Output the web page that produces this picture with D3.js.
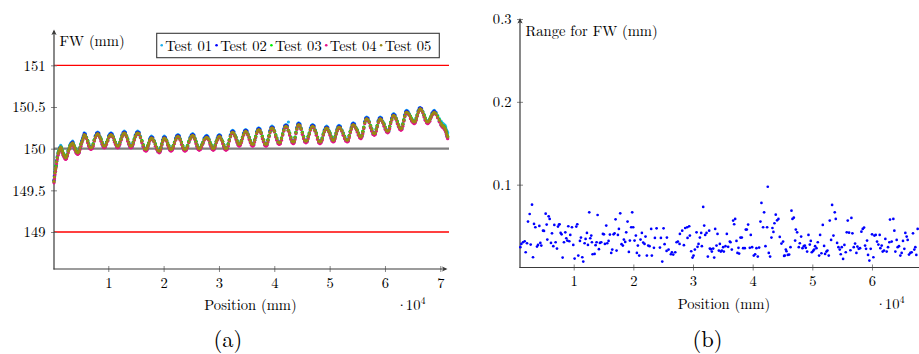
<!DOCTYPE html>
<html>
<head>
<meta charset="utf-8">
<script src="https://cdn.jsdelivr.net/npm/d3@7"></script>
<style>
  html, body { margin: 0; padding: 0; background: #fff; }
</style>
</head>
<body>
<svg id="chart" width="919" height="354"></svg>
<script>
// ---- (a) FW per test, position in mm ----
const positions = [
  190,280,370,460,550,660,780,930,1090,1240,1400,1540,1690,1840,1990,2150,2300,2450,2590,2770,2950,3100,3260,3420,3570,3710,3850,4000,4160,4310,4470,4610,4760,4910,5070,5220,5370,5520,
  5660,5862,6063,6265,6467,6668, 6870,7072,7273,7475,7677,7878, 8080,8280,8480,8680,8880,9080, 9280,9482,9683,9885,10087,10288,
  10490,10692,10893,11095,11297,11498, 11700,11898,12097,12295,12493,12692, 12890,13092,13293,13495,13697,13898, 14100,14302,14503,14705,14907,15108,
  15310,15560,15810,16060,16310,16560, 16810,16975,17140,17305,17470,17635, 17800,18035,18270,18505,18740,18975, 19210,19362,19513,19665,19817,19968,
  20120,20322,20523,20725,20927,21128, 21330,21540,21750,21960,22170,22380, 22590,22802,23013,23225,23437,23648, 23860,24092,24323,24555,24787,25018,
  25250,25448,25647,25845,26043,26242, 26440,26663,26887,27110,27333,27557, 27780,27978,28177,28375,28573,28772, 28970,29152,29333,29515,29697,29878,
  30060,30262,30463,30665,30867,31068, 31270,31472,31673,31875,32077,32278, 32480,32678,32877,33075,33273,33472, 33670,33863,34057,34250,34443,34637,
  34830,35040,35250,35460,35670,35880, 36090,36272,36453,36635,36817,36998, 37180,37400,37620,37840,38060,38280, 38500,38680,38860,39040,39220,39400,
  39580,39800,40020,40240,40460,40680, 40900,41102,41303,41505,41707,41908, 42110,42330,42550,42770,42990,43210, 43430,43592,43753,43915,44077,44238,
  44400,44620,44840,45060,45280,45500, 45720,45922,46123,46325,46527,46728, 46930,47150,47370,47590,47810,48030, 48250,48452,48653,48855,49057,49258,
  49460,49660,49860,50060,50260,50460, 50660,50832,51003,51175,51347,51518, 51690,51940,52190,52440,52690,52940, 53190,53370,53550,53730,53910,54090,
  54270,54502,54733,54965,55197,55428, 55660,55832,56003,56175,56347,56518, 56690,56920,57150,57380,57610,57840, 58070,58250,58430,58610,58790,58970,
  59150,59373,59597,59820,60043,60267, 60490,60670,60850,61030,61210,61390, 61570,61790,62010,62230,62450,62670, 62890,63062,63233,63405,63577,63748,
  63920,64148,64377,64605,64833,65062, 65290,65472,65653,65835,66017,66198, 66380,66603,66827,67050,67273,67497, 67720,67918,68117,68315,68513,68712,
  68910,69200,69500,69820,70130,70320,70500,70680,70850,70980,71100,71220,71330
];

const test01 = [
  149.63,149.68,149.73,149.77,149.80,149.86,149.91,149.96,149.99,150.02,150.04,150.02,149.98,149.95,149.93,149.91,149.90,149.91,149.94,149.98,150.01,150.05,150.07,150.08,150.09,150.07,150.04,150.01,149.98,149.97,149.96,149.97,149.98,150.02,150.06,150.10,150.13,150.16,
  150.19,150.18,150.14,150.10,150.06,150.03, 150.02,150.03,150.06,150.11,150.16,150.19, 150.20,150.19,150.15,150.12,150.08,150.05, 150.04,150.05,150.08,150.11,150.16,150.18,
  150.19,150.18,150.15,150.11,150.08,150.05, 150.04,150.05,150.08,150.12,150.17,150.20, 150.21,150.20,150.16,150.12,150.08,150.05, 150.04,150.05,150.08,150.12,150.17,150.20,
  150.21,150.20,150.15,150.10,150.05,150.01, 150.00,150.01,150.04,150.07,150.12,150.14, 150.15,150.14,150.10,150.06,150.02,149.99, 149.98,149.99,150.02,150.06,150.11,150.14,
  150.15,150.14,150.11,150.07,150.04,150.01, 150.00,150.01,150.04,150.08,150.13,150.16, 150.17,150.16,150.12,150.08,150.04,150.01, 150.00,150.01,150.04,150.09,150.14,150.17,
  150.18,150.17,150.13,150.09,150.05,150.02, 150.01,150.02,150.05,150.08,150.13,150.15, 150.16,150.15,150.12,150.08,150.05,150.02, 150.01,150.02,150.05,150.09,150.13,150.16,
  150.17,150.16,150.12,150.09,150.05,150.02, 150.01,150.02,150.06,150.11,150.17,150.21, 150.22,150.21,150.17,150.14,150.10,150.07, 150.06,150.07,150.10,150.14,150.19,150.22,
  150.23,150.22,150.18,150.14,150.10,150.07, 150.06,150.07,150.11,150.15,150.21,150.24, 150.25,150.24,150.20,150.15,150.11,150.07, 150.06,150.07,150.11,150.16,150.22,150.26,
  150.27,150.26,150.22,150.17,150.13,150.09, 150.08,150.09,150.13,150.18,150.24,150.28, 150.29,150.28,150.32,150.19,150.14,150.10, 150.09,150.10,150.14,150.20,150.26,150.30,
  150.31,150.30,150.25,150.20,150.15,150.11, 150.10,150.11,150.15,150.19,150.25,150.28, 150.29,150.28,150.23,150.19,150.14,150.10, 150.09,150.10,150.13,150.18,150.23,150.26,
  150.27,150.26,150.22,150.19,150.15,150.12, 150.11,150.12,150.15,150.19,150.24,150.27, 150.28,150.27,150.23,150.19,150.15,150.12, 150.11,150.12,150.16,150.21,150.26,150.30,
  150.31,150.30,150.26,150.23,150.19,150.16, 150.15,150.17,150.21,150.26,150.33,150.37, 150.38,150.37,150.33,150.28,150.24,150.20, 150.19,150.20,150.24,150.28,150.34,150.37,
  150.38,150.37,150.33,150.30,150.26,150.23, 150.22,150.23,150.27,150.32,150.37,150.41, 150.42,150.41,150.37,150.33,150.29,150.26, 150.25,150.26,150.30,150.35,150.41,150.45,
  150.46,150.45,150.42,150.39,150.36,150.34, 150.33,150.34,150.37,150.41,150.46,150.49, 150.49,150.48,150.45,150.41,150.37,150.34, 150.33,150.34,150.36,150.39,150.43,150.45,
  150.46,150.44,150.40,150.36,150.33,150.31,150.30,150.29,150.28,150.26,150.23,150.21,150.19
];
const test02 = [
  149.62,149.67,149.72,149.75,149.79,149.85,149.89,149.94,149.97,150.01,150.02,150.00,149.96,149.93,149.91,149.89,149.88,149.89,149.92,149.97,150.00,150.04,150.06,150.07,150.08,150.05,150.02,149.99,149.96,149.95,149.94,149.95,149.96,150.01,150.05,150.09,150.12,150.15,
  150.18,150.17,150.13,150.09,150.04,150.01, 150.00,150.01,150.05,150.10,150.15,150.18, 150.19,150.18,150.14,150.11,150.06,150.03, 150.02,150.03,150.07,150.10,150.15,150.17,
  150.18,150.17,150.14,150.10,150.06,150.03, 150.02,150.03,150.07,150.11,150.16,150.19, 150.20,150.19,150.15,150.11,150.06,150.03, 150.02,150.03,150.07,150.11,150.16,150.19,
  150.20,150.19,150.14,150.09,150.03,149.99, 149.98,149.99,150.03,150.06,150.11,150.13, 150.14,150.13,150.09,150.05,150.00,149.97, 149.96,149.97,150.01,150.05,150.10,150.13,
  150.14,150.13,150.10,150.06,150.02,149.99, 149.98,149.99,150.03,150.07,150.12,150.15, 150.16,150.15,150.11,150.07,150.02,149.99, 149.98,149.99,150.03,150.08,150.13,150.16,
  150.17,150.16,150.12,150.08,150.03,150.00, 149.99,150.00,150.04,150.07,150.12,150.14, 150.15,150.14,150.11,150.07,150.03,150.00, 149.99,150.00,150.04,150.08,150.12,150.15,
  150.16,150.15,150.11,150.08,150.03,150.00, 149.99,150.00,150.05,150.10,150.16,150.20, 150.21,150.20,150.16,150.13,150.08,150.05, 150.04,150.05,150.09,150.13,150.18,150.21,
  150.22,150.21,150.17,150.13,150.08,150.05, 150.04,150.05,150.10,150.14,150.20,150.23, 150.24,150.23,150.19,150.14,150.09,150.05, 150.04,150.05,150.10,150.15,150.21,150.25,
  150.26,150.25,150.21,150.16,150.11,150.07, 150.06,150.07,150.12,150.17,150.23,150.27, 150.28,150.27,150.22,150.18,150.12,150.08, 150.07,150.08,150.13,150.19,150.25,150.29,
  150.30,150.29,150.24,150.19,150.13,150.09, 150.08,150.09,150.14,150.18,150.24,150.27, 150.28,150.27,150.22,150.18,150.12,150.08, 150.07,150.08,150.12,150.17,150.22,150.25,
  150.26,150.25,150.21,150.18,150.13,150.10, 150.09,150.10,150.14,150.18,150.23,150.26, 150.27,150.26,150.22,150.18,150.13,150.10, 150.09,150.10,150.15,150.20,150.25,150.29,
  150.30,150.29,150.25,150.22,150.17,150.14, 150.13,150.15,150.20,150.25,150.32,150.36, 150.37,150.36,150.32,150.27,150.22,150.18, 150.17,150.18,150.23,150.27,150.33,150.36,
  150.37,150.36,150.32,150.29,150.24,150.21, 150.20,150.21,150.26,150.31,150.36,150.40, 150.41,150.40,150.36,150.32,150.27,150.24, 150.23,150.24,150.29,150.34,150.40,150.44,
  150.45,150.44,150.41,150.38,150.34,150.32, 150.31,150.32,150.36,150.40,150.45,150.48, 150.49,150.48,150.44,150.40,150.35,150.32, 150.31,150.32,150.35,150.38,150.42,150.44,
  150.45,150.43,150.38,150.33,150.29,150.27,150.26,150.25,150.23,150.21,150.18,150.15,150.13
];
const test03 = [
  149.60,149.66,149.72,149.76,149.80,149.85,149.90,149.95,149.98,150.00,150.02,150.01,149.98,149.95,149.93,149.91,149.90,149.90,149.93,149.98,150.01,150.04,150.05,150.06,150.06,150.05,150.03,150.01,149.98,149.97,149.95,149.96,149.98,150.02,150.06,150.08,150.11,150.13,
  150.16,150.15,150.13,150.10,150.06,150.02, 150.00,150.02,150.06,150.11,150.14,150.16, 150.17,150.16,150.14,150.12,150.08,150.04, 150.02,150.04,150.08,150.11,150.14,150.15,
  150.16,150.15,150.14,150.11,150.08,150.04, 150.02,150.04,150.08,150.12,150.15,150.17, 150.18,150.17,150.15,150.12,150.08,150.04, 150.02,150.04,150.08,150.12,150.15,150.17,
  150.18,150.17,150.14,150.10,150.05,150.00, 149.98,150.00,150.04,150.07,150.10,150.11, 150.12,150.11,150.09,150.06,150.02,149.98, 149.96,149.98,150.02,150.06,150.09,150.11,
  150.12,150.11,150.10,150.07,150.04,150.00, 149.98,150.00,150.04,150.08,150.11,150.13, 150.14,150.13,150.11,150.08,150.04,150.00, 149.98,150.00,150.04,150.09,150.12,150.14,
  150.15,150.14,150.12,150.09,150.05,150.01, 149.99,150.01,150.05,150.08,150.11,150.12, 150.13,150.12,150.11,150.08,150.05,150.01, 149.99,150.01,150.05,150.09,150.11,150.13,
  150.14,150.13,150.11,150.09,150.05,150.01, 149.99,150.01,150.06,150.11,150.15,150.18, 150.19,150.18,150.16,150.14,150.10,150.06, 150.04,150.06,150.10,150.14,150.17,150.19,
  150.20,150.19,150.17,150.14,150.10,150.06, 150.04,150.06,150.11,150.15,150.19,150.21, 150.22,150.21,150.19,150.15,150.11,150.06, 150.04,150.06,150.11,150.16,150.20,150.23,
  150.24,150.23,150.21,150.17,150.13,150.08, 150.06,150.08,150.13,150.18,150.22,150.25, 150.26,150.25,150.22,150.19,150.14,150.09, 150.07,150.09,150.14,150.20,150.24,150.27,
  150.28,150.27,150.24,150.20,150.15,150.10, 150.08,150.10,150.15,150.19,150.23,150.25, 150.26,150.25,150.22,150.19,150.14,150.09, 150.07,150.09,150.13,150.18,150.21,150.23,
  150.24,150.23,150.21,150.19,150.15,150.11, 150.09,150.11,150.15,150.19,150.22,150.24, 150.25,150.24,150.22,150.19,150.15,150.11, 150.09,150.11,150.16,150.21,150.24,150.27,
  150.28,150.27,150.25,150.23,150.19,150.15, 150.13,150.16,150.21,150.26,150.31,150.34, 150.35,150.34,150.32,150.28,150.24,150.19, 150.17,150.19,150.24,150.28,150.32,150.34,
  150.35,150.34,150.32,150.30,150.26,150.22, 150.20,150.22,150.27,150.32,150.35,150.38, 150.39,150.38,150.36,150.33,150.29,150.25, 150.23,150.25,150.30,150.35,150.39,150.42,
  150.43,150.42,150.41,150.39,150.36,150.33, 150.31,150.33,150.37,150.41,150.44,150.46, 150.47,150.46,150.44,150.41,150.37,150.33, 150.31,150.33,150.36,150.39,150.41,150.42,
  150.43,150.42,150.39,150.35,150.31,150.28,150.27,150.27,150.25,150.22,150.20,150.17,150.15
];
const test04 = [
  149.59,149.64,149.69,149.73,149.77,149.82,149.87,149.92,149.95,149.99,150.01,149.99,149.95,149.92,149.90,149.88,149.87,149.88,149.91,149.95,149.99,150.02,150.04,150.05,150.06,150.03,150.01,149.98,149.95,149.94,149.93,149.94,149.95,149.99,150.03,150.07,150.10,150.13,
  150.16,150.15,150.12,150.07,150.03,150.00, 149.99,150.00,150.03,150.09,150.13,150.16, 150.17,150.16,150.13,150.09,150.05,150.02, 150.01,150.02,150.05,150.09,150.13,150.15,
  150.16,150.15,150.13,150.08,150.05,150.02, 150.01,150.02,150.05,150.10,150.14,150.17, 150.18,150.17,150.14,150.09,150.05,150.02, 150.01,150.02,150.05,150.10,150.14,150.17,
  150.18,150.17,150.13,150.07,150.02,149.98, 149.97,149.98,150.01,150.05,150.09,150.11, 150.12,150.11,150.08,150.03,149.99,149.96, 149.95,149.96,149.99,150.04,150.08,150.11,
  150.12,150.11,150.09,150.04,150.01,149.98, 149.97,149.98,150.01,150.06,150.10,150.13, 150.14,150.13,150.10,150.05,150.01,149.98, 149.97,149.98,150.01,150.07,150.11,150.14,
  150.15,150.14,150.11,150.06,150.02,149.99, 149.98,149.99,150.02,150.06,150.10,150.12, 150.13,150.12,150.10,150.05,150.02,149.99, 149.98,149.99,150.02,150.07,150.10,150.13,
  150.14,150.13,150.10,150.06,150.02,149.99, 149.98,149.99,150.03,150.09,150.14,150.18, 150.19,150.18,150.15,150.11,150.07,150.04, 150.03,150.04,150.07,150.12,150.16,150.19,
  150.20,150.19,150.16,150.11,150.07,150.04, 150.03,150.04,150.08,150.13,150.18,150.21, 150.22,150.21,150.18,150.12,150.08,150.04, 150.03,150.04,150.08,150.14,150.19,150.23,
  150.24,150.23,150.20,150.14,150.10,150.06, 150.05,150.06,150.10,150.16,150.21,150.25, 150.26,150.25,150.21,150.16,150.11,150.07, 150.06,150.07,150.11,150.18,150.23,150.27,
  150.28,150.27,150.23,150.17,150.12,150.08, 150.07,150.08,150.12,150.17,150.22,150.25, 150.26,150.25,150.21,150.16,150.11,150.07, 150.06,150.07,150.10,150.16,150.20,150.23,
  150.24,150.23,150.20,150.16,150.12,150.09, 150.08,150.09,150.12,150.17,150.21,150.24, 150.25,150.24,150.21,150.16,150.12,150.09, 150.08,150.09,150.13,150.19,150.23,150.27,
  150.28,150.27,150.24,150.20,150.16,150.13, 150.12,150.14,150.18,150.24,150.30,150.34, 150.35,150.34,150.31,150.25,150.21,150.17, 150.16,150.17,150.21,150.26,150.31,150.34,
  150.35,150.34,150.31,150.27,150.23,150.20, 150.19,150.20,150.24,150.30,150.34,150.38, 150.39,150.38,150.35,150.30,150.26,150.23, 150.22,150.23,150.27,150.33,150.38,150.42,
  150.43,150.42,150.40,150.36,150.33,150.31, 150.30,150.31,150.34,150.39,150.43,150.46, 150.47,150.46,150.43,150.38,150.34,150.31, 150.30,150.31,150.33,150.37,150.40,150.42,
  150.43,150.41,150.37,150.32,150.28,150.26,150.25,150.24,150.22,150.20,150.17,150.14,150.12
];
const test05 = [
  149.61,149.66,149.71,149.75,149.78,149.84,149.89,149.94,149.97,150.00,150.02,150.00,149.97,149.94,149.92,149.90,149.89,149.90,149.93,149.97,150.00,150.03,150.05,150.06,150.07,150.05,150.03,150.00,149.97,149.96,149.95,149.96,149.97,150.01,150.05,150.08,150.11,150.14,
  150.17,150.16,150.13,150.09,150.05,150.02, 150.01,150.02,150.05,150.10,150.14,150.17, 150.18,150.17,150.14,150.11,150.07,150.04, 150.03,150.04,150.07,150.10,150.14,150.16,
  150.17,150.16,150.14,150.10,150.07,150.04, 150.03,150.04,150.07,150.11,150.15,150.18, 150.19,150.18,150.15,150.11,150.07,150.04, 150.03,150.04,150.07,150.11,150.15,150.18,
  150.19,150.18,150.14,150.09,150.04,150.00, 149.99,150.00,150.03,150.06,150.10,150.12, 150.13,150.12,150.09,150.05,150.01,149.98, 149.97,149.98,150.01,150.05,150.09,150.12,
  150.13,150.12,150.10,150.06,150.03,150.00, 149.99,150.00,150.03,150.07,150.11,150.14, 150.15,150.14,150.11,150.07,150.03,150.00, 149.99,150.00,150.03,150.08,150.12,150.15,
  150.16,150.15,150.12,150.08,150.04,150.01, 150.00,150.01,150.04,150.07,150.11,150.13, 150.14,150.13,150.11,150.07,150.04,150.01, 150.00,150.01,150.04,150.08,150.11,150.14,
  150.15,150.14,150.11,150.08,150.04,150.01, 150.00,150.01,150.05,150.10,150.15,150.19, 150.20,150.19,150.16,150.13,150.09,150.06, 150.05,150.06,150.09,150.13,150.17,150.20,
  150.21,150.20,150.17,150.13,150.09,150.06, 150.05,150.06,150.10,150.14,150.19,150.22, 150.23,150.22,150.19,150.14,150.10,150.06, 150.05,150.06,150.10,150.15,150.20,150.24,
  150.25,150.24,150.21,150.16,150.12,150.08, 150.07,150.08,150.12,150.17,150.22,150.26, 150.27,150.26,150.22,150.18,150.13,150.09, 150.08,150.09,150.13,150.19,150.24,150.28,
  150.29,150.28,150.24,150.19,150.14,150.10, 150.09,150.10,150.14,150.18,150.23,150.26, 150.27,150.26,150.22,150.18,150.13,150.09, 150.08,150.09,150.12,150.17,150.21,150.24,
  150.25,150.24,150.21,150.18,150.14,150.11, 150.10,150.11,150.14,150.18,150.22,150.25, 150.26,150.25,150.22,150.18,150.14,150.11, 150.10,150.11,150.15,150.20,150.24,150.28,
  150.29,150.28,150.25,150.22,150.18,150.15, 150.14,150.16,150.20,150.25,150.31,150.35, 150.36,150.35,150.32,150.27,150.23,150.19, 150.18,150.19,150.23,150.27,150.32,150.35,
  150.36,150.35,150.32,150.29,150.25,150.22, 150.21,150.22,150.26,150.31,150.35,150.39, 150.40,150.39,150.36,150.32,150.28,150.25, 150.24,150.25,150.29,150.34,150.39,150.43,
  150.44,150.43,150.41,150.38,150.35,150.33, 150.32,150.33,150.36,150.40,150.44,150.47, 150.48,150.47,150.44,150.40,150.36,150.33, 150.32,150.33,150.35,150.38,150.41,150.43,
  150.44,150.42,150.38,150.34,150.30,150.28,150.27,150.26,150.24,150.22,150.19,150.16,150.14
];

const testNames = ["Test 01", "Test 02", "Test 03", "Test 04", "Test 05"];
const testSeries = [test01, test02, test03, test04, test05];
const testColors = ["#1fb1ee", "#0000ff", "#00f000", "#e5118a", "#9a8914"];

const fwTicks = [149, 149.5, 150, 150.5, 151];
const limitLines = [149, 151];
const nominalLine = 150;
const posTicksA = [10000, 20000, 30000, 40000, 50000, 60000, 70000];
const posTicksB = [10000, 20000, 30000, 40000, 50000, 60000];

// ---- (b) range of FW over tests ----
const rangePos = [
  1061,1228,1507,1786,1953,2177,2344,2623,2790,3014,3181,3348,3572,3851,4018,4241,4409,4576,4855,5022,
  5301,5469,5580,5804,5971,6194,6362,6585,6752,6975,7199,7366,7533,7645,7812,7980,8147,8370,8594,8761,
  8928,9096,9263,9431,9710,9933,10156,10435,10602,10770,11049,11216,11439,11607,11830,11997,12221,12388,12611,12779,
  12946,13058,13169,13504,13671,13839,14006,14229,14397,14620,14899,15066,15234,15457,15624,15848,16071,16294,16461,16685,
  16852,17019,17187,17410,17577,17801,18024,18247,18414,18638,18805,19028,19251,19419,19642,19809,19977,20200,20423,20591,
  20758,20981,21204,21428,21651,21874,22041,22265,22488,22711,22990,23102,
  23450,23617,23896,24454,24621,24845,25068,25235,25570,25626,25905,26295,26463,26686,27021,27244,27467,27746,27802,28193,
  28472,28695,29030,29085,29364,29476,29699,29922,30090,30313,30592,30759,30927,31150,31373,31485,31708,31875,32043,32266,
  32489,32712,32824,32991,33159,33382,33549,33717,33940,34107,34331,34498,34665,34833,35056,35168,35447,35670,35893,36172,
  36284,36507,36730,36897,37065,37288,37455,37623,37734,37958,38181,38404,38683,38850,39018,39241,39520,39687,39911,40190,
  40413,40636,40859,41082,41306,41473,41752,41919,42143,42422,42533,42701,42924,43147,43314,43482,43649,43872,44095,44319,
  44542,44821,45100,45267,
  45392,45559,45671,45894,46117,46341,46508,46675,46899,47122,47233,47457,47736,47903,48126,48349,48573,48740,48907,49131,
  49354,49577,49744,49912,50135,50302,50470,50693,50916,51139,51307,51530,51753,51976,52144,52367,52534,52758,52925,53148,
  53316,53539,53762,53929,54153,54376,54599,54766,54934,55157,55380,55603,55771,55938,56161,56385,56552,56719,56943,57166,
  57389,57556,57780,58003,58226,58449,58672,58840,59007,59175,59342,59565,59788,60012,60235,60402,60625,60849,61072,61295,
  61407,61630,61797,62020,62244,62467,62690,62913,63025,63304,63583,63750,63918,64141,64308,64531,64755,64978,65201,65424,
  65592,65815,65982,66205,66429,66652,66875,67098,67266,67433,67656
];
const rangeVal = [
  0.0245,0.0285,0.0305,0.0317,0.0184,0.0293,0.0554,0.0646,0.0277,0.0759,0.0124,0.0526,0.0486,0.0253,0.0273,0.0502,0.0297,0.0265,0.0445,0.0441,
  0.0650,0.0518,0.0337,0.0618,0.0586,0.0297,0.0413,0.0257,0.0514,0.0305,0.0229,0.0494,0.0518,0.0522,0.0417,0.0401,0.0120,0.0305,0.0425,0.0353,
  0.0325,0.0498,0.0317,0.0393,0.0486,0.0273,0.0108,0.0494,0.0522,0.0144,0.0321,0.0361,0.0124,0.0072,0.0293,0.0345,0.0417,0.0273,0.0666,0.0353,
  0.0385,0.0305,0.0160,0.0164,0.0269,0.0305,0.0634,0.0221,0.0297,0.0305,0.0405,0.0401,0.0285,0.0506,0.0293,0.0321,0.0397,0.0176,0.0217,0.0401,
  0.0413,0.0582,0.0204,0.0393,0.0466,0.0654,0.0281,0.0265,0.0337,0.0309,0.0425,0.0554,0.0188,0.0325,0.0486,0.0666,0.0486,0.0325,0.0385,0.0176,
  0.0265,0.0144,0.0337,0.0417,0.0301,0.0285,0.0373,0.0144,0.0265,0.0257,0.0466,0.0144,
  0.0237,0.0357,0.0473,0.0241,0.0357,0.0072,0.0473,0.0281,0.0200,0.0361,0.0217,0.0160,0.0184,0.0156,0.0184,0.0305,0.0313,0.0285,0.0405,0.0445,
  0.0269,0.0477,0.0486,0.0357,0.0498,0.0385,0.0196,0.0120,0.0144,0.0217,0.0425,0.0249,0.0285,0.0361,0.0417,0.0257,0.0731,0.0506,0.0393,0.0417,
  0.0132,0.0445,0.0229,0.0221,0.0192,0.0229,0.0120,0.0466,0.0265,0.0405,0.0204,0.0285,0.0192,0.0204,0.0245,0.0192,0.0257,0.0405,0.0249,0.0313,
  0.0305,0.0217,0.0566,0.0522,0.0586,0.0321,0.0176,0.0237,0.0168,0.0361,0.0361,0.0233,0.0233,0.0458,0.0458,0.0518,0.0237,0.0393,0.0245,0.0144,
  0.0160,0.0233,0.0132,0.0241,0.0554,0.0779,0.0486,0.0666,0.0257,0.0486,0.0975,0.0176,0.0132,0.0361,0.0477,0.0429,0.0534,0.0638,0.0570,0.0586,
  0.0369,0.0289,0.0313,0.0140,
  0.0144,0.0217,0.0196,0.0152,0.0156,0.0245,0.0686,0.0586,0.0602,0.0325,0.0458,0.0425,0.0245,0.0293,0.0373,0.0233,0.0257,0.0265,0.0237,0.0192,
  0.0393,0.0277,0.0321,0.0184,0.0200,0.0217,0.0257,0.0233,0.0305,0.0144,0.0393,0.0172,0.0514,0.0261,0.0164,0.0192,0.0204,0.0144,0.0566,0.0333,
  0.0755,0.0385,0.0666,0.0586,0.0297,0.0245,0.0217,0.0160,0.0245,0.0104,0.0273,0.0184,0.0425,0.0566,0.0421,0.0208,0.0598,0.0413,0.0245,0.0289,
  0.0176,0.0253,0.0225,0.0233,0.0433,0.0466,0.0482,0.0265,0.0225,0.0325,0.0152,0.0084,0.0225,0.0401,0.0124,0.0385,0.0393,0.0313,0.0277,0.0393,
  0.0233,0.0265,0.0192,0.0204,0.0345,0.0192,0.0245,0.0305,0.0578,0.0313,0.0586,0.0445,0.0192,0.0333,0.0245,0.0257,0.0144,0.0176,0.0321,0.0225,
  0.0417,0.0373,0.0333,0.0156,0.0176,0.0184,0.0413,0.0217,0.0245,0.0152,0.0466
];
const rangeTicks = [0.1, 0.2, 0.3];

// ---- drawing ----
const svg = d3.select('#chart');
const AXIS = '#3a3a3a';
const FS = '14.6px';
const FONT = '"Latin Modern Roman", "Liberation Serif", serif';
const INK = '#000';

// put text with the serif font as inline style (stylesheet rules are not picked up)
function label(g, x, y, str, size = FS, anchor = 'start') {
  return g.append('text').attr('x', x).attr('y', y).attr('text-anchor', anchor)
    .style('font-family', FONT).style('font-size', size).style('fill', INK)
    .text(str);
}

function sciLabel(g, x, y) {
  const t = label(g, x, y, '·');
  t.append('tspan').attr('dx', -1.5).text('10');
  t.append('tspan').attr('dy', -6).style('font-size', '10.2px').text('4');
}

function arrow(g, x, y, dir) {
  // small stealth-like arrow head, dir 'up' or 'right'
  const p = dir === 'up'
    ? `M${x},${y} L${x - 2.6},${y + 5.5} L${x},${y + 4.2} L${x + 2.6},${y + 5.5} Z`
    : `M${x},${y} L${x - 5.5},${y - 2.6} L${x - 4.2},${y} L${x - 5.5},${y + 2.6} Z`;
  g.append('path').attr('d', p).attr('fill', AXIS);
}

function styleAxis(g, horiz) {
  g.select('.domain').remove();
  g.selectAll('.tick line')
    .attr('stroke', '#777').attr('stroke-width', 0.9)
    .attr(horiz ? 'y1' : 'x1', horiz ? -3 : 3)
    .attr(horiz ? 'y2' : 'x2', horiz ? 3 : -3);
  g.selectAll('.tick text')
    .style('font-family', FONT).style('font-size', FS).style('fill', INK);
}

// ===== panel (a) =====
const xA = d3.scaleLinear().domain([190, 71570]).range([54, 449]);
const yA = d3.scaleLinear().domain([148.556, 151.424]).range([269, 30]);
const ga = svg.append('g');

ga.selectAll('line.limit').data(limitLines).join('line')
  .attr('x1', xA.range()[0]).attr('x2', xA.range()[1])
  .attr('y1', d => yA(d)).attr('y2', d => yA(d))
  .attr('stroke', '#ff0000').attr('stroke-width', 1.3);
ga.append('line')
  .attr('x1', xA.range()[0]).attr('x2', xA.range()[1])
  .attr('y1', yA(nominalLine)).attr('y2', yA(nominalLine))
  .attr('stroke', '#7f7f7f').attr('stroke-width', 2.2);

const axA_x = ga.append('g').attr('transform', `translate(0,${yA.range()[0]})`)
  .call(d3.axisBottom(xA).tickValues(posTicksA).tickFormat(d => d / 1e4).tickSizeOuter(0));
styleAxis(axA_x, true);
axA_x.selectAll('.tick text').attr('y', 8.5).attr('dy', '0.71em');
const axA_y = ga.append('g').attr('transform', `translate(${xA.range()[0]},0)`)
  .call(d3.axisLeft(yA).tickValues(fwTicks).tickFormat(d3.format('')).tickSizeOuter(0));
styleAxis(axA_y, false);
axA_y.selectAll('.tick text').attr('x', -8.5);

ga.append('line').attr('x1', 54).attr('x2', 54).attr('y1', 269.5).attr('y2', 31)
  .attr('stroke', AXIS).attr('stroke-width', 1.2);
ga.append('line').attr('x1', 53.5).attr('x2', 446).attr('y1', 269).attr('y2', 269)
  .attr('stroke', AXIS).attr('stroke-width', 1.2);
arrow(ga, 54, 29.5, 'up');
arrow(ga, 447.5, 269, 'right');

testSeries.forEach((vals, k) => {
  ga.append('g').selectAll('circle')
    .data(vals.map((v, i) => [positions[i], v]))
    .join('circle')
    .attr('cx', d => xA(d[0])).attr('cy', d => yA(d[1]))
    .attr('r', 1.6).attr('fill', testColors[k]);
});

label(ga, 59.5, 45.5, 'FW (mm)');
label(ga, 250.5, 310, 'Position (mm)', FS, 'middle');
sciLabel(ga, 396, 310);
label(ga, 228, 347, '(a)', '22.5px', 'middle');

const lg = ga.append('g');
lg.append('rect').attr('x', 156.7).attr('y', 33.3).attr('width', 282.6).attr('height', 24.4)
  .attr('fill', '#fff').attr('stroke', AXIS).attr('stroke-width', 1.1);
testNames.forEach((name, i) => {
  const x0 = 161.7 + i * 54.85;
  lg.append('circle').attr('cx', x0).attr('cy', 45.3).attr('r', 1.3).attr('fill', testColors[i]);
  label(lg, x0 + 3.6, 50.5, name);
});

// ===== panel (b) =====
const xB = d3.scaleLinear().domain([1000, 71570]).range([520, 941]);
const yB = d3.scaleLinear().domain([0, 0.3]).range([267.5, 19]);
const gb = svg.append('g');

const axB_x = gb.append('g').attr('transform', `translate(0,${yB.range()[0]})`)
  .call(d3.axisBottom(xB).tickValues(posTicksB).tickFormat(d => d / 1e4).tickSizeOuter(0));
styleAxis(axB_x, true);
axB_x.selectAll('.tick text').attr('y', 8).attr('dy', '0.71em');
const axB_y = gb.append('g').attr('transform', `translate(${xB.range()[0]},0)`)
  .call(d3.axisLeft(yB).tickValues(rangeTicks).tickFormat(d3.format('.1f')).tickSizeOuter(0));
styleAxis(axB_y, false);
axB_y.selectAll('.tick text').attr('x', -8.5);

gb.append('line').attr('x1', 520).attr('x2', 520).attr('y1', 268).attr('y2', 20)
  .attr('stroke', AXIS).attr('stroke-width', 1.2);
gb.append('line').attr('x1', 519.5).attr('x2', 941).attr('y1', 267.5).attr('y2', 267.5)
  .attr('stroke', AXIS).attr('stroke-width', 1.2);
arrow(gb, 520, 18, 'up');

gb.append('g').selectAll('circle')
  .data(rangeVal.map((v, i) => [rangePos[i], v]))
  .join('circle')
  .attr('cx', d => xB(d[0])).attr('cy', d => yB(d[1]))
  .attr('r', 1.35).attr('fill', '#0000ff');

label(gb, 525.5, 36, 'Range for FW (mm)');
label(gb, 724, 308.5, 'Position (mm)', FS, 'middle');
sciLabel(gb, 875, 308.5);
label(gb, 707.5, 347, '(b)', '22.5px', 'middle');
</script>
</body>
</html>
